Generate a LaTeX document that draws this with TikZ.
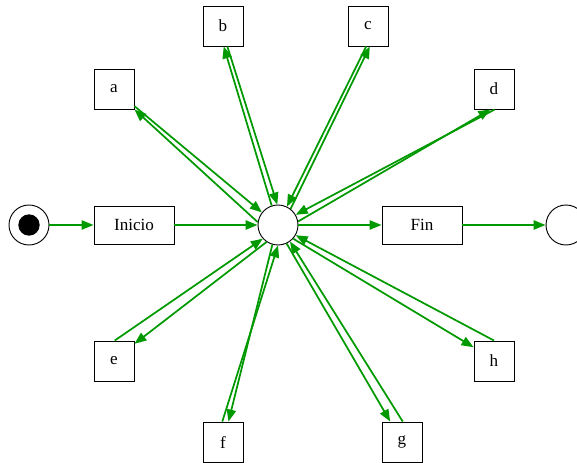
\documentclass[tikz,border=0pt]{standalone}
\usepackage{fontspec}
\setmainfont{Liberation Serif}
\usetikzlibrary{arrows.meta}
\definecolor{arcgreen}{RGB}{0,153,0}

\begin{document}
\begin{tikzpicture}[x=0.75pt,y=-0.75pt,node distance=108pt,
  arc/.style={-{Triangle[length=9pt,width=7pt]},arcgreen,line width=1.3pt},
  place/.style={circle,draw,line width=0.7pt,minimum size=30pt,inner sep=0pt},
  trans/.style={rectangle,draw,line width=0.7pt,minimum width=30pt,minimum height=30pt,
    inner sep=0pt,font=\fontsize{12.8}{14}\selectfont}]
  \tikzset{long trans/.style={trans,minimum width=60pt,minimum height=28.5pt}}
  \useasboundingbox (0,0) rectangle (577,463);
  \node[place] (p) at (278,225) {};
  \node[long trans] (ini) [left of=p] {Inicio};
  \node[place] (s) [left of=ini,node distance=78.75pt] {};
  \node[circle,fill=black,minimum size=16pt,inner sep=0pt] (tok) at (s) {};
  \node[long trans] (fin) [right of=p] {Fin};
  \node[place] (end) [right of=fin] {};

  \node[trans] (a) at (114,89) {a};
  \node[trans] (b) at (223,26) {b};
  \node[trans] (c) at (368,26) {c};
  \node[trans] (d) at (494,89) {d};
  \node[trans] (e) at (114,361) {e};
  \node[trans] (f) at (223,442) {f};
  \node[trans] (g) at (402,442) {g};
  \node[trans] (h) at (494,361) {h};

  \path[arc]
    (s) edge (ini)
    (ini) edge (p)
    (p) edge (fin)
    (fin) edge (end);
  % out of the place and back again
  \path[arc]
    (p.172) edge (a.-45)   (a.-40) edge (p.142)
    (p.108) edge (b.-88)   (b.-78) edge (p.92)
    (p.52) edge (c.-85)    (c.-95) edge (p.64)
    (p.10) edge (d.-100)   (d.-88) edge (p.30)
    (p.236) edge (e.40)    (e.88) edge (p.222)
    (p.254) edge (f.75)    (f.92) edge (p.270)
    (p.295) edge (g.120)   (g.88) edge (p.306)
    (p.318) edge (h.146)   (h.90) edge (p.330);
\end{tikzpicture}
\end{document}
